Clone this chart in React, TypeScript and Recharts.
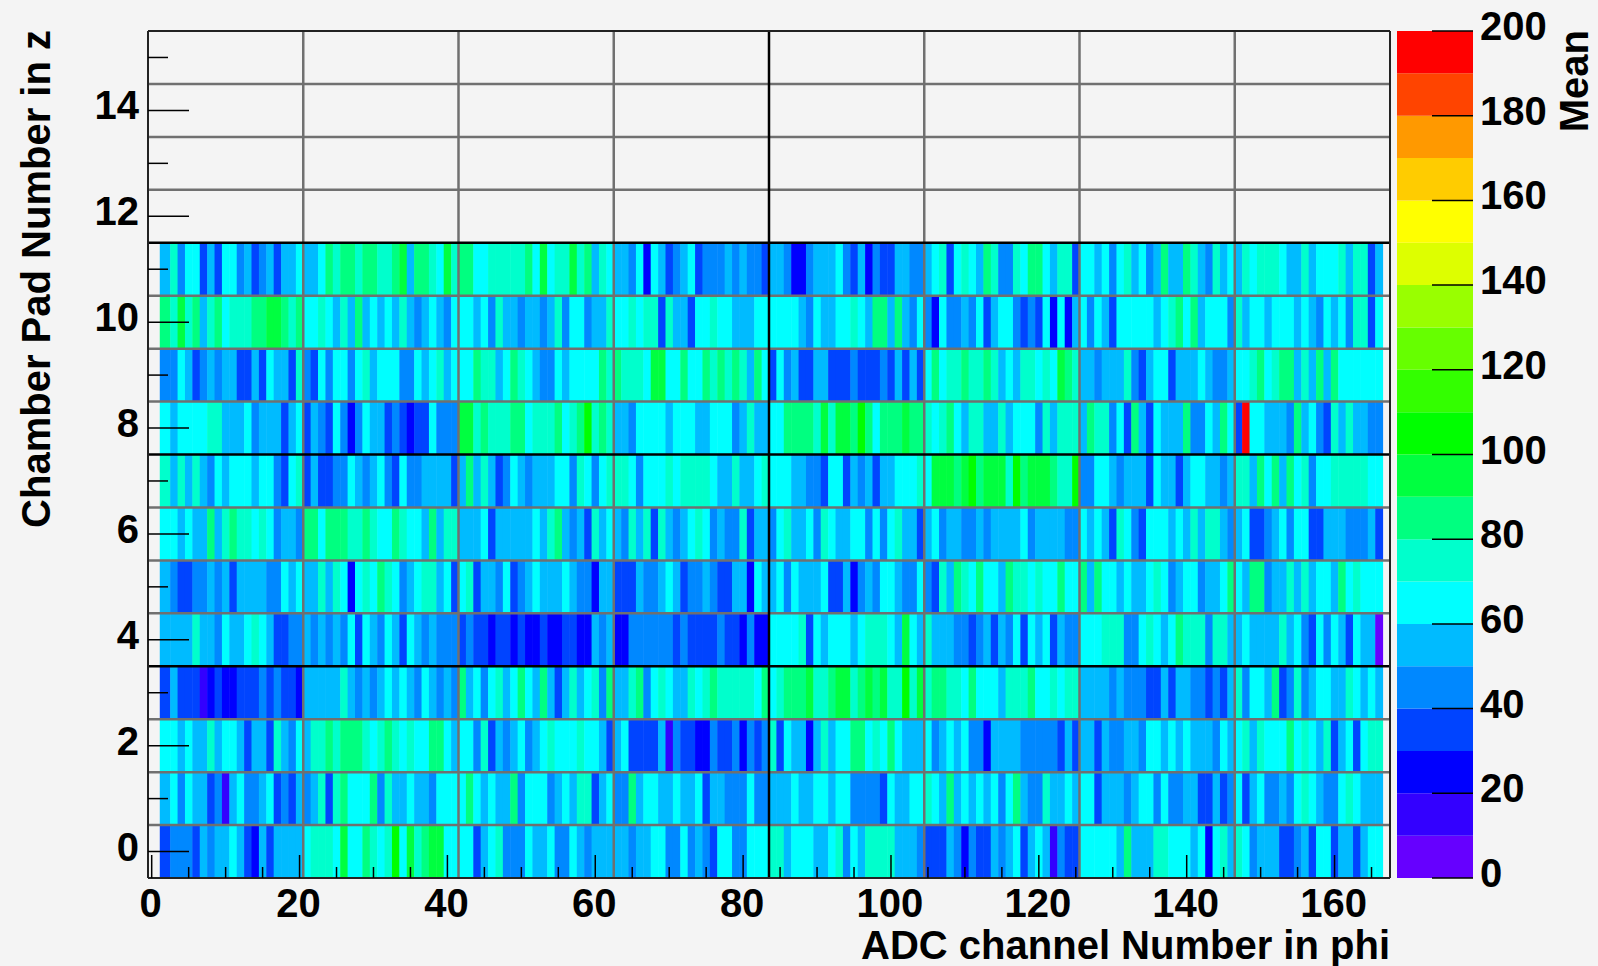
import React from 'react'
import { ScatterChart, Scatter, BarChart, Bar, XAxis, YAxis, ReferenceLine } from 'recharts'

// mean per channel, one list per pad row, first value is channel 2
const row0 = [35,45,45,45,35,55,45,55,55,65,55,35,25,55,35,55,55,55,55,
  65,75,75,75,65,95,65,65,85,75,65,75,105,65,95,75,85,95,95,65,65,
  65,65,35,55,65,75,45,45,45,65,55,55,65,45,45,65,55,45,55,55,55,
  55,55,45,55,55,65,65,45,45,65,45,55,45,35,65,65,45,45,65,65,65,
  75,75,55,65,65,65,55,55,65,75,45,65,55,75,75,75,75,55,55,55,45,
  35,35,35,55,45,25,45,35,35,55,45,55,65,35,55,65,55,15,45,35,35,
  65,65,65,65,65,55,85,55,55,55,75,75,65,65,65,55,65,25,65,75,55,
  75,65,45,55,55,55,35,35,45,55,35,65,65,35,55,55,35,55,65,65]
const row1 = [55,65,45,65,55,55,35,45,15,55,65,45,45,55,65,35,45,35,55,
  45,55,75,35,75,85,65,65,65,85,45,75,55,55,65,55,55,45,65,65,65,
  65,85,65,55,65,55,55,85,45,65,65,65,45,55,65,55,75,75,35,55,65,
  45,45,85,55,65,65,55,55,65,55,55,65,35,55,55,45,45,45,65,45,45,
  55,55,55,65,55,55,65,65,55,65,65,45,45,45,45,35,65,55,55,65,65,
  75,65,55,85,55,65,55,65,55,65,45,65,85,55,45,45,75,55,55,65,55,
  65,65,35,55,55,55,45,55,65,65,45,65,45,45,55,55,35,35,55,35,45,
  65,35,55,65,45,45,55,45,65,75,65,55,45,45,65,75,65,55,55,55]
const row2 = [65,65,55,65,55,55,75,55,65,65,55,35,55,55,35,75,55,45,65,
  55,75,75,85,75,85,85,85,75,65,75,85,75,65,75,65,65,85,85,65,55,
  65,65,45,75,35,55,45,55,65,45,55,65,75,65,65,65,75,65,65,55,35,
  55,65,35,35,35,35,55,15,45,35,35,25,25,45,35,35,45,25,45,35,45,
  75,35,65,55,55,25,55,75,55,65,65,85,85,65,75,65,85,65,55,55,55,
  65,45,55,65,55,65,45,45,25,55,55,55,55,45,45,45,45,45,35,55,35,
  55,55,35,55,45,45,55,55,45,65,65,55,65,55,65,55,55,55,45,65,55,
  65,75,55,75,65,65,65,85,65,75,65,55,75,35,55,65,35,65,75,75]
const row3 = [35,55,35,35,35,15,25,35,25,25,35,35,35,45,35,45,35,35,25,
  55,55,55,55,55,75,55,45,55,45,55,65,55,65,55,45,65,55,45,55,45,
  85,55,65,45,65,75,55,65,85,65,55,85,55,35,55,75,55,65,75,45,85,
  55,55,75,85,45,65,75,65,55,55,75,65,75,85,75,75,75,75,75,65,85,
  65,75,85,85,85,95,75,75,85,95,95,75,85,95,85,95,75,75,105,75,95,
  75,85,85,75,75,65,85,65,65,65,55,75,75,75,85,65,65,75,65,75,75,
  55,55,55,55,45,55,45,45,45,35,35,55,35,55,55,45,45,35,45,35,55,
  75,45,65,65,55,85,35,45,75,45,55,65,65,55,55,75,65,55,65,55]
const row4 = [55,55,55,55,75,55,55,45,65,55,55,65,75,65,55,35,35,45,45,
  55,45,55,45,55,45,65,35,65,55,45,65,55,35,65,55,45,55,45,45,45,
  35,45,35,35,25,35,35,25,35,25,25,35,25,25,35,35,25,25,55,45,55,
  25,25,45,45,45,45,45,45,35,45,35,35,35,35,45,35,35,25,45,25,25,
  65,65,65,65,75,35,65,55,65,65,65,55,65,75,75,75,65,55,95,65,55,
  75,55,55,55,45,45,35,45,55,35,55,45,65,35,65,55,65,35,55,45,45,
  65,65,65,75,75,75,45,45,65,75,65,55,65,85,75,75,75,45,75,75,55,
  55,65,55,55,55,55,75,55,65,45,35,65,45,65,55,35,65,55,55,5]
const row5 = [55,45,35,35,45,45,55,45,55,35,55,55,55,55,45,45,65,55,65,
  55,55,75,55,75,65,25,65,75,65,85,75,65,45,55,65,75,75,55,65,35,
  65,75,35,55,55,45,65,35,45,55,65,55,55,55,65,55,45,45,25,55,55,
  35,35,35,55,45,45,55,65,55,35,45,45,55,45,35,35,55,55,25,65,55,
  55,65,45,65,55,55,55,65,35,35,55,25,45,55,45,65,65,55,45,45,65,
  45,35,75,55,85,75,65,85,65,65,55,85,75,75,65,75,65,65,85,65,65,
  85,55,85,65,65,55,65,55,55,65,75,65,45,55,65,65,45,55,55,65,85,
  65,55,85,85,45,55,55,75,55,75,55,65,65,55,85,65,75,65,65,65]
const row6 = [65,65,55,65,55,55,85,55,75,85,75,75,65,75,65,45,55,55,45,
  85,85,65,85,85,85,75,75,85,75,65,65,85,75,65,65,55,85,55,75,75,
  55,55,55,65,35,55,55,55,55,55,65,55,75,85,55,45,55,35,75,55,65,
  55,45,75,55,75,35,75,55,45,55,65,75,65,45,55,45,45,75,35,55,55,
  45,65,75,55,55,65,45,75,65,55,55,65,65,45,65,45,65,75,55,55,35,
  55,65,45,55,55,45,45,55,45,55,55,55,55,65,45,55,55,55,55,45,45,
  65,55,65,55,35,75,65,45,35,65,65,65,55,65,55,75,55,75,75,55,45,
  55,65,35,35,45,55,65,45,65,65,35,35,55,55,55,45,45,45,55,35]
const row7 = [75,55,75,55,75,55,45,65,55,65,65,65,55,65,65,45,35,65,75,
  35,55,35,35,45,45,65,55,45,55,65,45,35,65,45,45,55,55,55,55,35,
  55,85,55,75,55,35,45,65,55,45,55,55,55,65,65,45,75,65,45,65,75,
  75,75,65,45,65,65,65,75,65,75,75,75,75,65,55,55,75,55,55,65,75,
  65,65,65,55,55,45,45,35,65,65,35,55,45,55,35,55,55,65,65,65,75,
  65,95,95,95,85,95,105,85,95,95,95,75,105,85,95,95,95,85,75,75,105,
  45,45,65,65,55,45,55,55,55,35,65,55,55,35,55,65,65,55,55,45,55,
  75,75,55,85,65,85,55,85,65,75,45,65,65,75,75,75,75,75,65,65]
const row8 = [65,55,65,65,65,65,75,75,55,55,55,65,45,55,55,55,35,55,65,
  35,55,45,35,65,45,25,45,65,55,55,35,45,35,25,35,35,65,45,45,45,
  95,95,75,85,75,75,75,85,85,65,75,75,75,85,65,75,85,105,75,85,75,
  55,55,45,65,65,65,65,55,65,65,65,55,55,65,65,65,45,55,75,55,55,
  65,65,85,85,85,85,75,95,75,95,95,85,105,85,65,85,85,85,95,85,85,
  75,65,75,85,65,55,75,75,55,55,75,55,65,65,65,45,75,55,75,75,75,
  55,85,75,75,45,65,35,85,55,35,65,55,55,55,85,45,45,65,55,85,65,
  35,195,65,65,55,55,55,45,85,55,65,45,35,75,55,75,55,55,45,45]
const row9 = [45,45,65,55,35,45,55,45,55,55,35,35,55,35,65,55,55,35,75,
  45,35,65,45,65,65,45,65,75,55,65,65,65,45,45,65,55,65,75,55,65,
  65,65,85,75,75,55,65,85,75,65,55,45,45,65,55,65,65,65,65,85,75,
  85,75,75,75,65,95,95,65,65,85,65,65,85,75,85,75,85,75,55,85,65,
  35,65,45,55,35,35,55,55,35,35,35,45,35,35,35,45,35,55,35,55,35,
  65,85,65,75,75,85,75,75,85,75,55,65,55,75,75,65,75,65,95,85,75,
  55,55,45,55,55,55,75,45,35,55,65,65,35,55,55,55,65,55,45,45,55,
  65,65,75,85,65,75,85,85,55,75,55,85,55,85,65,65,65,65,65,65]
const row10 = [85,75,95,75,85,55,75,85,65,75,75,75,85,85,95,95,85,75,85,
  65,65,75,65,55,75,55,85,55,65,55,65,55,75,55,45,55,65,55,45,65,
  65,65,55,65,45,75,55,55,45,55,55,45,55,75,45,65,65,45,55,55,75,
  65,65,75,65,75,75,35,75,55,55,35,65,65,75,65,65,55,55,55,65,65,
  65,65,65,65,55,45,65,55,55,65,65,75,65,55,85,85,55,85,55,45,65,
  45,25,65,45,45,55,45,65,35,55,65,65,45,35,45,35,65,25,65,25,55,
  65,45,65,55,35,65,65,65,65,65,55,65,75,85,65,85,55,65,65,65,45,
  75,55,65,65,55,65,65,65,55,65,55,45,65,55,65,45,75,75,35,65]
const row11 = [55,75,45,65,65,35,55,35,65,65,45,55,35,45,55,35,55,55,65,
  55,55,65,85,75,85,85,75,85,85,75,75,85,95,55,85,85,75,65,95,75,
  85,85,65,65,75,75,75,75,75,85,65,95,65,75,75,95,75,85,55,75,65,
  55,55,45,65,25,65,55,35,45,55,65,35,45,45,45,55,45,55,45,45,35,
  55,55,45,25,25,45,55,55,55,65,45,35,55,25,45,35,35,55,55,45,45,
  55,65,75,35,65,75,65,55,85,75,45,45,75,65,85,85,65,55,75,75,35,
  65,65,55,65,45,65,75,55,65,45,55,85,55,55,85,75,55,45,75,55,65,
  55,75,65,75,75,75,65,55,55,75,55,65,65,65,75,55,75,75,35,55]

const rows = [row0, row1, row2, row3, row4, row5, row6, row7, row8, row9, row10, row11]
const firstChannel = 2

const levelColors = [
  '#6600ff', '#3300ff', '#0000ff', '#0044ff', '#0088ff', '#00bbff', '#00ffff', '#00ffcc', '#00ff80', '#00ff40',
  '#00ff00', '#33ff00', '#66ff00', '#99ff00', '#ddff00', '#ffff00', '#ffcc00', '#ff9900', '#ff4400', '#ff0000'
]

const xTicks = [0, 5, 10, 15, 20, 25, 30, 35, 40, 45, 50, 55, 60, 65, 70, 75, 80, 85, 90, 95, 100, 105, 110, 115, 120, 125, 130, 135, 140, 145, 150, 155, 160, 165]
const yTicks = [0, 1, 2, 3, 4, 5, 6, 7, 8, 9, 10, 11, 12, 13, 14, 15]
const colorTicks = [0, 20, 40, 60, 80, 100, 120, 140, 160, 180, 200]
const grayX = [20.5, 41.5, 62.5, 104.5, 125.5, 146.5]
const blackX = [83.5]
const grayY = [0.5, 1.5, 2.5, 4.5, 5.5, 6.5, 8.5, 9.5, 10.5, 12.5, 13.5, 14.5]
const blackY = [3.5, 7.5, 11.5]
const frameCorners = [{ channel: -0.5, pad: -0.5 }, { channel: 167.5, pad: 15.5 }]

const W = 1598
const H = 966
const PLOT_LEFT = 148
const PLOT_RIGHT = 1390
const PLOT_TOP = 31
const PLOT_BOTTOM = 878
const CELL_W = (PLOT_RIGHT - PLOT_LEFT) / 168
const CELL_H = (PLOT_BOTTOM - PLOT_TOP) / 16
const FONT = '"Liberation Sans", Arial, sans-serif'
const FONT_SIZE = 40

const Cell = (props: any) => {
  const { cx, cy, payload } = props
  const color = levelColors[Math.min(19, Math.floor(payload.value / 10))]
  // the first filled column starts a little early in the picture
  const lead = payload.channel === firstChannel ? 3 : 0
  return <rect x={cx - CELL_W / 2 - lead} y={cy - CELL_H / 2} width={CELL_W + 0.5 + lead} height={CELL_H} fill={color} />
}

const XTick = (props: any) => {
  const { x, y, payload } = props
  const major = payload.value % 20 === 0
  return (
    <g>
      <line x1={x} x2={x} y1={y} y2={y - (major ? 23 : 11)} stroke="#000" strokeWidth={1.5} />
      {major && (
        <text x={x - 1} y={y + 39} textAnchor="middle" fontFamily={FONT} fontWeight="bold" fontSize={FONT_SIZE} fill="#000">
          {payload.value}
        </text>
      )}
    </g>
  )
}

const YTick = (props: any) => {
  const { x, y, payload } = props
  const major = payload.value % 2 === 0
  return (
    <g>
      <line x1={x} x2={x + (major ? 41 : 20)} y1={y} y2={y} stroke="#000" strokeWidth={1.5} />
      {major && (
        <text x={x - 9} y={y + 9} textAnchor="end" fontFamily={FONT} fontWeight="bold" fontSize={FONT_SIZE} fill="#000">
          {payload.value}
        </text>
      )}
    </g>
  )
}

const ColorTick = (props: any) => {
  const { x, y, payload } = props
  return (
    <g>
      <line x1={x} x2={x - 41} y1={y} y2={y} stroke="#000" strokeWidth={1.5} />
      <text x={x + 7} y={y + 9} textAnchor="start" fontFamily={FONT} fontWeight="bold" fontSize={FONT_SIZE} fill="#000">
        {payload.value}
      </text>
    </g>
  )
}

const colorRow: Record<string, number> = {}
levelColors.forEach((_, i) => { colorRow['l' + i] = 10 })

const plotMargin = { top: PLOT_TOP, right: W - PLOT_RIGHT, bottom: H - PLOT_BOTTOM, left: PLOT_LEFT }

const App = () => (
  <div style={{ position: 'fixed', left: 0, top: 0, width: W, height: H, background: '#f4f4f4', overflow: 'hidden' }}>
    {/* cells underneath, axes and grid in a second chart on top of them */}
    <div style={{ position: 'absolute', left: 0, top: 0 }}>
      <ScatterChart width={W} height={H} margin={plotMargin}>
        <XAxis hide type="number" dataKey="channel" domain={[-0.5, 167.5]} />
        <YAxis hide type="number" dataKey="pad" domain={[-0.5, 15.5]} />
        {rows.map((values, r) => (
          <Scatter key={r} isAnimationActive={false} shape={Cell}
            data={values.map((value, i) => ({ channel: i + firstChannel, pad: r, value }))} />
        ))}
      </ScatterChart>
    </div>
    <div style={{ position: 'absolute', left: 0, top: 0 }}>
      <ScatterChart width={W} height={H} margin={{ top: PLOT_TOP, right: W - PLOT_RIGHT, bottom: 0, left: 0 }}>
        <XAxis type="number" dataKey="channel" domain={[-0.5, 167.5]} ticks={xTicks} interval={0} height={H - PLOT_BOTTOM}
          axisLine={false} tickLine={false} tickSize={0} tickMargin={0} tick={XTick} />
        <YAxis type="number" dataKey="pad" domain={[-0.5, 15.5]} ticks={yTicks} interval={0} width={PLOT_LEFT}
          axisLine={false} tickLine={false} tickSize={0} tickMargin={0} tick={YTick} />
        <Scatter data={frameCorners} isAnimationActive={false} shape={() => <g />} />
        {grayX.map(v => <ReferenceLine key={v} x={v} stroke="#707070" strokeWidth={2.5} />)}
        {grayY.map(v => <ReferenceLine key={v} y={v} stroke="#707070" strokeWidth={2.5} />)}
        {blackX.map(v => <ReferenceLine key={v} x={v} stroke="#000" strokeWidth={2.5} />)}
        {blackY.map(v => <ReferenceLine key={v} y={v} stroke="#000" strokeWidth={2.5} />)}
        <ReferenceLine x={-0.5} stroke="#222" strokeWidth={2} />
        <ReferenceLine x={167.5} stroke="#222" strokeWidth={2} />
        <ReferenceLine y={-0.5} stroke="#222" strokeWidth={2} />
        <ReferenceLine y={15.5} stroke="#222" strokeWidth={2} />
        <text x={PLOT_RIGHT} y={959} textAnchor="end" fontFamily={FONT} fontWeight="bold" fontSize={FONT_SIZE} fill="#000">
          ADC channel Number in phi
        </text>
        <text transform={`translate(50 ${PLOT_TOP - 1}) rotate(-90)`} textAnchor="end" fontFamily={FONT} fontWeight="bold" fontSize={FONT_SIZE} fill="#000">
          Chamber Pad Number in z
        </text>
        <text transform={`translate(1588 ${PLOT_TOP - 1}) rotate(-90)`} textAnchor="end" fontFamily={FONT} fontWeight="bold" fontSize={FONT_SIZE} fill="#000">
          Mean
        </text>
      </ScatterChart>
    </div>
    <div style={{ position: 'absolute', left: 1397, top: 0 }}>
      <BarChart width={201} height={H} data={[colorRow]} barCategoryGap={0} margin={{ top: PLOT_TOP, right: 0, bottom: H - PLOT_BOTTOM, left: 0 }}>
        <XAxis hide />
        {levelColors.map((c, i) => (
          <Bar key={c} dataKey={'l' + i} stackId="scale" fill={c} isAnimationActive={false} />
        ))}
        <YAxis orientation="right" domain={[0, 200]} ticks={colorTicks} interval={0} width={125}
          axisLine={false} tickLine={false} tickSize={0} tickMargin={0} tick={ColorTick} />
      </BarChart>
    </div>
  </div>
)

export default App
